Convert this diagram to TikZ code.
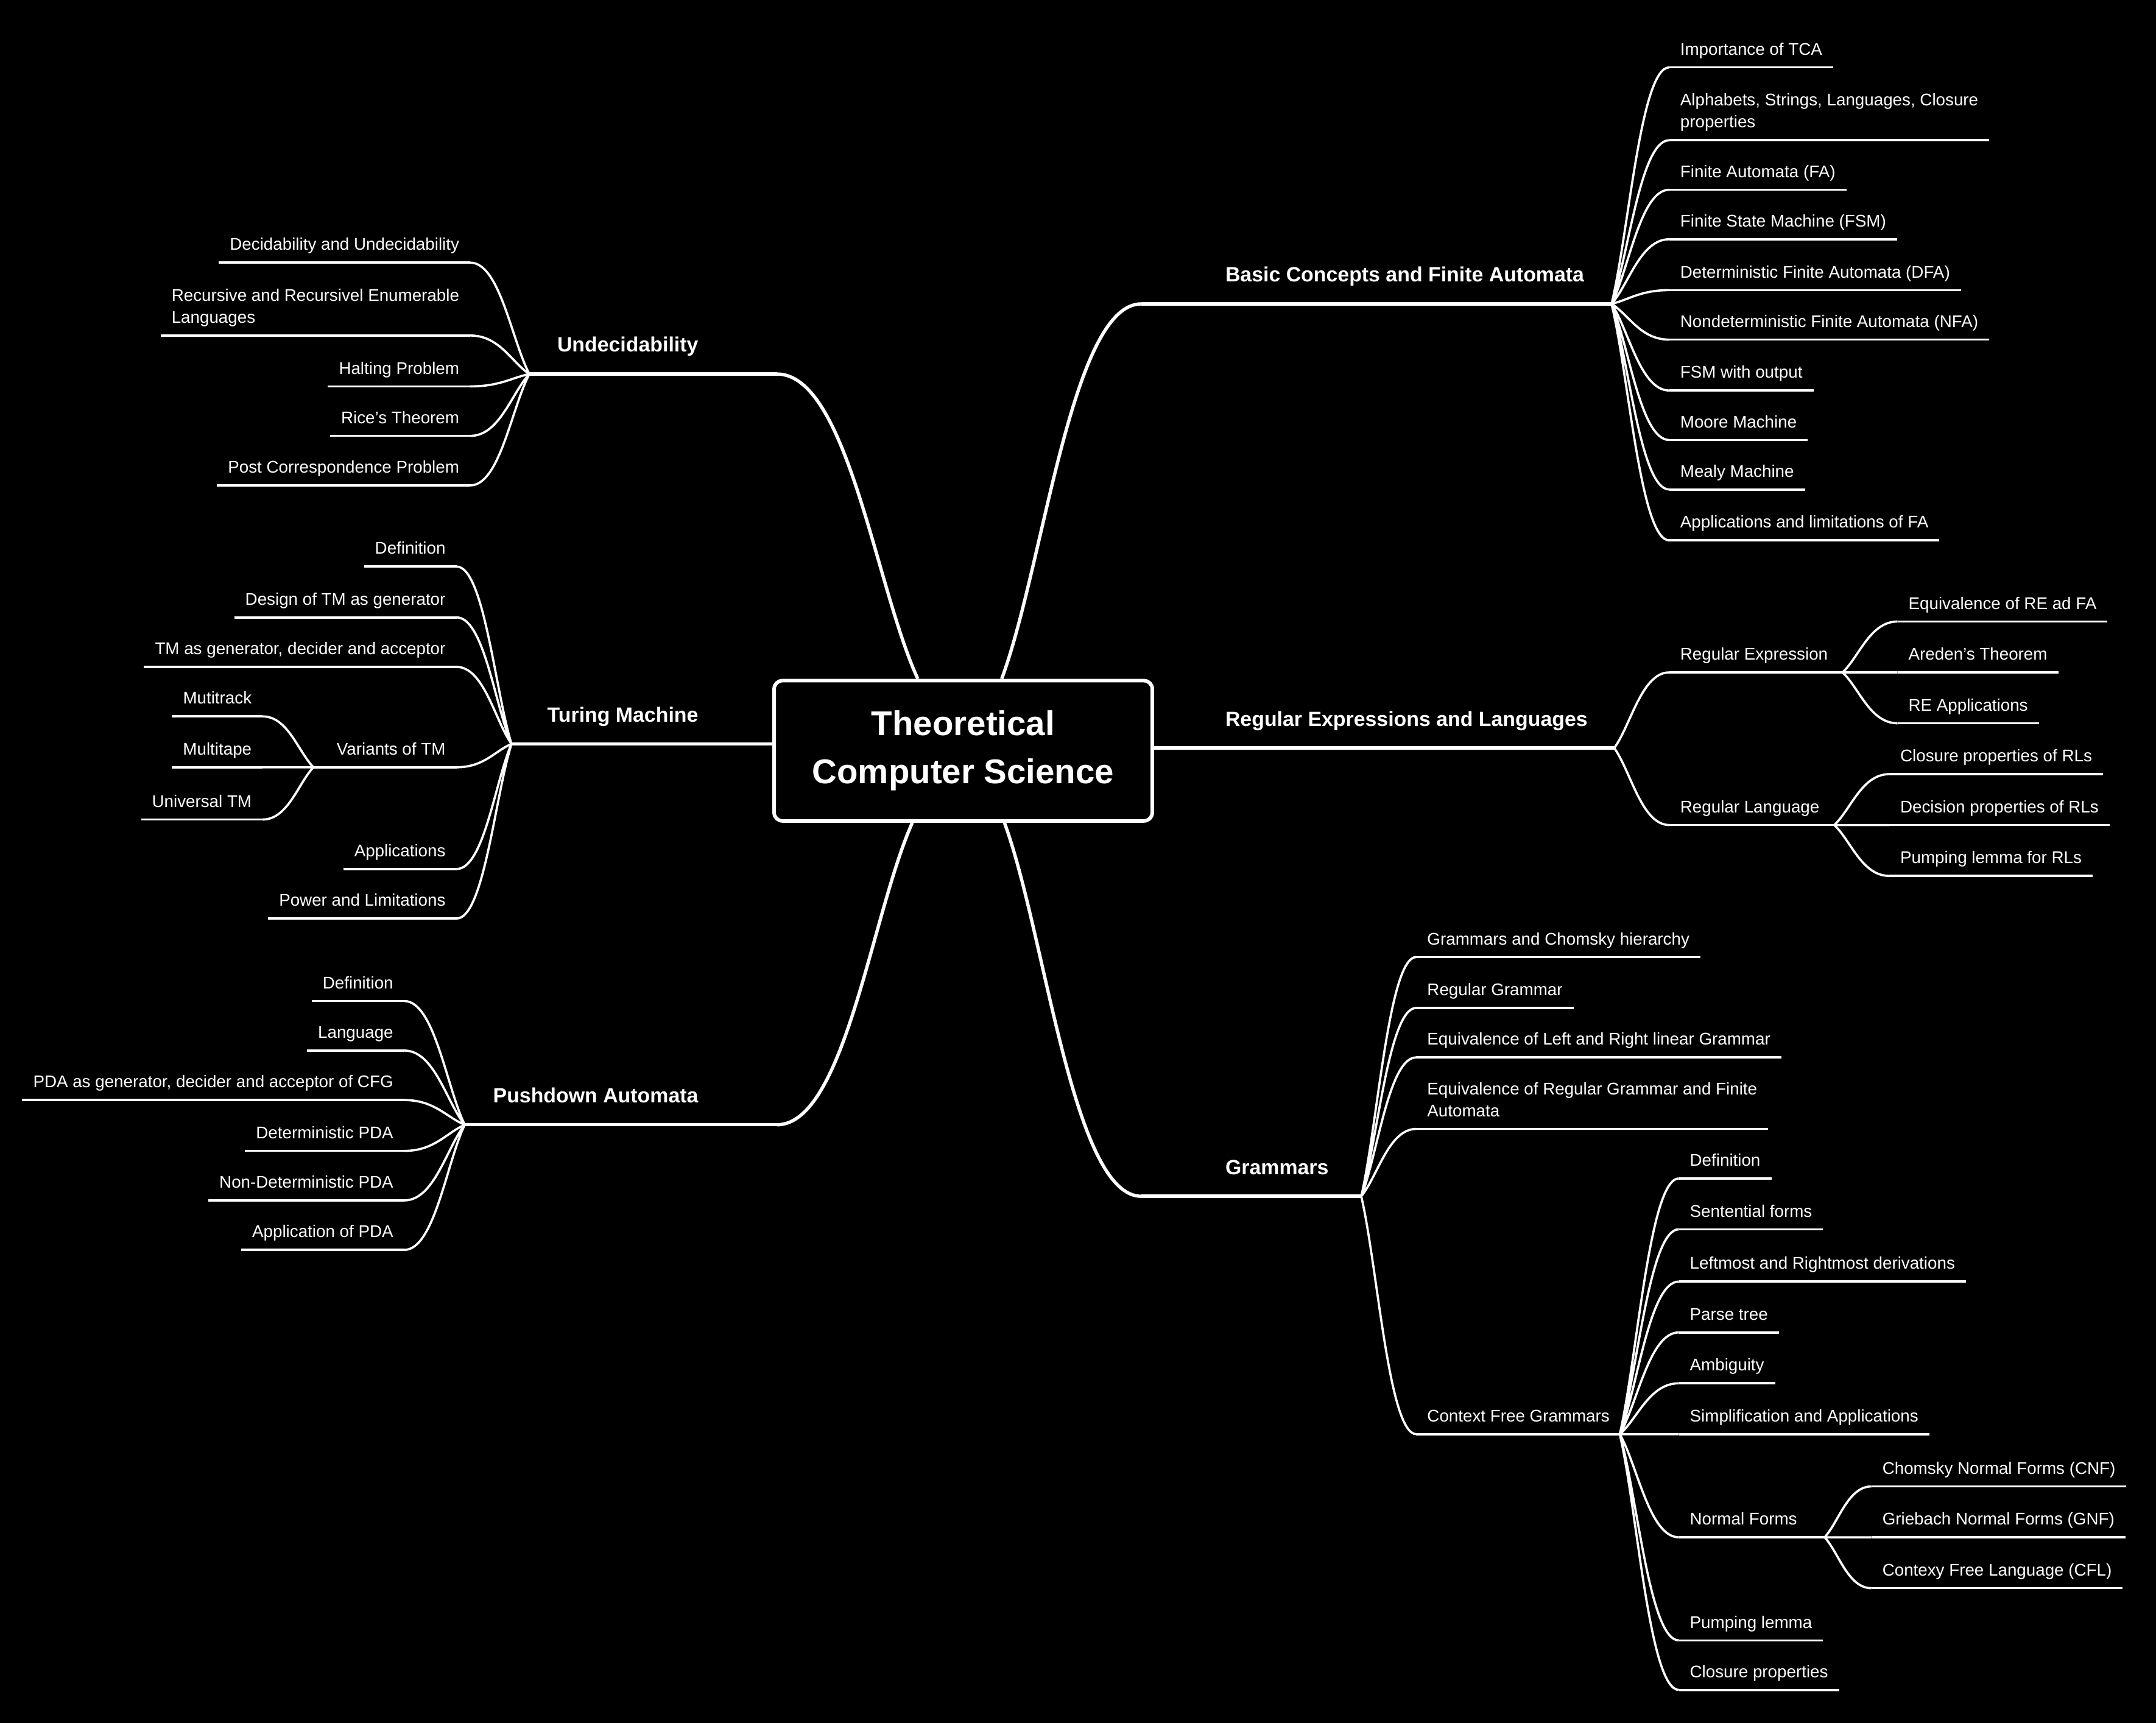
\documentclass[tikz,border=0pt]{standalone}
\usepackage{fontspec}
\setmainfont{Liberation Sans}
\usetikzlibrary{calc}

\begin{document}
\begin{tikzpicture}[x=1pt,y=-1pt,
    uline/.style={draw=white,line width=1.6pt},
    leaf/.style={text=white,font=\fontsize{12.3}{16}\selectfont,align=left,
        inner xsep=8pt,inner ysep=6pt,outer sep=0pt,text depth=3pt,
        append after command={(\tikzlastnode.south west) edge[uline] (\tikzlastnode.south east)}},
    link/.style={draw=white,line width=1.6pt,
        to path={let \p1=(\tikztostart), \p2=(\tikztotarget) in
            .. controls ($(\p1)!0.3!(\p2)$) and ({(\x1+\x2)/2},\y2) .. (\p2)}},
    mainlink/.style={link,line width=2.4pt},
    mainline/.style={draw=white,line width=2.4pt},
    branch/.style={text=white,font=\bfseries\fontsize{15}{18}\selectfont,inner sep=0pt},
    root/.style={draw=white,line width=2.6pt,fill=black,rounded corners=6pt,
        minimum width=275pt,minimum height=102pt,align=center,text=white,
        font=\bfseries\fontsize{25}{35}\selectfont}]
        \fill[black] (0,0) rectangle (1568,1253);
        \useasboundingbox (0,0) rectangle (1568,1253);

        \node[root] (tcs) at (700.5,546) {Theoretical\\Computer Science};

        \node[branch,anchor=base east] (und) at (508,256) {Undecidability};
        \coordinate (undL) at (565,272);
        \coordinate (undB) at (385,272);
        \node[leaf,anchor=south east] (und1) at (342,191) {Decidability and Undecidability};
        \node[leaf,anchor=south east] (und2) at (342,244) {Recursive and Recursivel Enumerable\\Languages};
        \node[leaf,anchor=south east] (und3) at (342,281) {Halting Problem};
        \node[leaf,anchor=south east] (und4) at (342,317) {Rice's Theorem};
        \node[leaf,anchor=south east] (und5) at (342,353) {Post Correspondence Problem};

        \node[branch,anchor=base east] (tm) at (508,525) {Turing Machine};
        \coordinate (tmB) at (372,541);
        \node[leaf,anchor=south east] (tm1) at (332,412) {Definition};
        \node[leaf,anchor=south east] (tm2) at (332,449) {Design of TM as generator};
        \node[leaf,anchor=south east] (tm3) at (332,485) {TM as generator, decider and acceptor};
        \node[leaf,anchor=south east] (tm4) at (332,558) {Variants of TM};
        \node[leaf,anchor=south east] (tm5) at (332,632) {Applications};
        \node[leaf,anchor=south east] (tm6) at (332,668) {Power and Limitations};
        \coordinate (vtmB) at (228,558);
        \node[leaf,anchor=south east] (vtm1) at (191,521) {Mutitrack};
        \node[leaf,anchor=south east] (vtm2) at (191,558) {Multitape};
        \node[leaf,anchor=south east] (vtm3) at (191,596) {Universal TM};

        \node[branch,anchor=base east] (pda) at (508,802) {Pushdown Automata};
        \coordinate (pdaL) at (565,818);
        \coordinate (pdaB) at (338,818);
        \node[leaf,anchor=south east] (pda1) at (294,728) {Definition};
        \node[leaf,anchor=south east] (pda2) at (294,764) {Language};
        \node[leaf,anchor=south east] (pda3) at (294,800) {PDA as generator, decider and acceptor of CFG};
        \node[leaf,anchor=south east] (pda4) at (294,837) {Deterministic PDA};
        \node[leaf,anchor=south east] (pda5) at (294,873) {Non-Deterministic PDA};
        \node[leaf,anchor=south east] (pda6) at (294,909) {Application of PDA};

        \node[branch,anchor=base west] (bca) at (891,205) {Basic Concepts and Finite Automata};
        \coordinate (bcaL) at (830,221);
        \coordinate (bcaB) at (1172,221);
        \node[leaf,anchor=south west] (bca1) at (1214,49) {Importance of TCA};
        \node[leaf,anchor=south west] (bca2) at (1214,102) {Alphabets, Strings, Languages, Closure\\properties};
        \node[leaf,anchor=south west] (bca3) at (1214,138) {Finite Automata (FA)};
        \node[leaf,anchor=south west] (bca4) at (1214,174) {Finite State Machine (FSM)};
        \node[leaf,anchor=south west] (bca5) at (1214,211) {Deterministic Finite Automata (DFA)};
        \node[leaf,anchor=south west] (bca6) at (1214,247) {Nondeterministic Finite Automata (NFA)};
        \node[leaf,anchor=south west] (bca7) at (1214,284) {FSM with output};
        \node[leaf,anchor=south west] (bca8) at (1214,320) {Moore Machine};
        \node[leaf,anchor=south west] (bca9) at (1214,356) {Mealy Machine};
        \node[leaf,anchor=south west] (bca10) at (1214,393) {Applications and limitations of FA};

        \node[branch,anchor=base west] (rel) at (891,528) {Regular Expressions and Languages};
        \coordinate (relB) at (1174,544);
        \node[leaf,anchor=south west] (re) at (1214,489) {Regular Expression};
        \coordinate (reB) at (1340,489);
        \node[leaf,anchor=south west] (re1) at (1380,452) {Equivalence of RE ad FA};
        \node[leaf,anchor=south west] (re2) at (1380,489) {Areden's Theorem};
        \node[leaf,anchor=south west] (re3) at (1380,526) {RE Applications};
        \node[leaf,anchor=south west] (rl) at (1214,600) {Regular Language};
        \coordinate (rlB) at (1334,600);
        \node[leaf,anchor=south west] (rl1) at (1374,563) {Closure properties of RLs};
        \node[leaf,anchor=south west] (rl2) at (1374,600) {Decision properties of RLs};
        \node[leaf,anchor=south west] (rl3) at (1374,637) {Pumping lemma for RLs};

        \node[branch,anchor=base west] (gr) at (891,854) {Grammars};
        \coordinate (grL) at (830,870);
        \coordinate (grB) at (990,870);
        \node[leaf,anchor=south west] (gr1) at (1030,696) {Grammars and Chomsky hierarchy};
        \node[leaf,anchor=south west] (gr2) at (1030,733) {Regular Grammar};
        \node[leaf,anchor=south west] (gr3) at (1030,769) {Equivalence of Left and Right linear Grammar};
        \node[leaf,anchor=south west] (gr4) at (1030,821) {Equivalence of Regular Grammar and Finite\\Automata};
        \node[leaf,anchor=south west] (cfg) at (1030,1043) {Context Free Grammars};
        \coordinate (cfgB) at (1178,1043);
        \node[leaf,anchor=south west] (cfg1) at (1221,857) {Definition};
        \node[leaf,anchor=south west] (cfg2) at (1221,894) {Sentential forms};
        \node[leaf,anchor=south west] (cfg3) at (1221,932) {Leftmost and Rightmost derivations};
        \node[leaf,anchor=south west] (cfg4) at (1221,969) {Parse tree};
        \node[leaf,anchor=south west] (cfg5) at (1221,1006) {Ambiguity};
        \node[leaf,anchor=south west] (cfg6) at (1221,1043) {Simplification and Applications};
        \node[leaf,anchor=south west] (nf) at (1221,1118) {Normal Forms};
        \node[leaf,anchor=south west] (cfg7) at (1221,1193) {Pumping lemma};
        \node[leaf,anchor=south west] (cfg8) at (1221,1229) {Closure properties};
        \coordinate (nfB) at (1327,1118);
        \node[leaf,anchor=south west] (nf1) at (1361,1081) {Chomsky Normal Forms (CNF)};
        \node[leaf,anchor=south west] (nf2) at (1361,1118) {Griebach Normal Forms (GNF)};
        \node[leaf,anchor=south west] (nf3) at (1361,1155) {Contexy Free Language (CFL)};

        \draw[mainlink] ([xshift=-33pt]tcs.north) to (undL);
        \draw[mainline] (undL) -- (undB);
        \draw[mainline] (tcs.west |- tmB) -- (tmB);
        \draw[mainlink] ([xshift=-37pt]tcs.south) to (pdaL);
        \draw[mainline] (pdaL) -- (pdaB);
        \draw[mainlink] ([xshift=28pt]tcs.north) to (bcaL);
        \draw[mainline] (bcaL) -- (bcaB);
        \draw[mainline] (tcs.east |- relB) -- (relB);
        \draw[mainlink] ([xshift=30pt]tcs.south) to (grL);
        \draw[mainline] (grL) -- (grB);

        \draw[link] (undB) to (und1.south east) (undB) to (und2.south east) (undB) to (und3.south east)
            (undB) to (und4.south east) (undB) to (und5.south east);
        \draw[link] (tmB) to (tm1.south east) (tmB) to (tm2.south east) (tmB) to (tm3.south east)
            (tmB) to (tm4.south east) (tmB) to (tm5.south east) (tmB) to (tm6.south east);
        \draw[uline] (tm4.south west) -- (vtmB);
        \draw[link] (vtmB) to (vtm1.south east) (vtmB) to (vtm2.south east) (vtmB) to (vtm3.south east);
        \draw[link] (pdaB) to (pda1.south east) (pdaB) to (pda2.south east) (pdaB) to (pda3.south east)
            (pdaB) to (pda4.south east) (pdaB) to (pda5.south east) (pdaB) to (pda6.south east);

        \draw[link] (bcaB) to (bca1.south west) (bcaB) to (bca2.south west) (bcaB) to (bca3.south west)
            (bcaB) to (bca4.south west) (bcaB) to (bca5.south west) (bcaB) to (bca6.south west)
            (bcaB) to (bca7.south west) (bcaB) to (bca8.south west) (bcaB) to (bca9.south west)
            (bcaB) to (bca10.south west);
        \draw[link] (relB) to (re.south west) (relB) to (rl.south west);
        \draw[uline] (re.south east) -- (reB);
        \draw[uline] (rl.south east) -- (rlB);
        \draw[link] (reB) to (re1.south west) (reB) to (re2.south west) (reB) to (re3.south west);
        \draw[link] (rlB) to (rl1.south west) (rlB) to (rl2.south west) (rlB) to (rl3.south west);
        \draw[link] (grB) to (gr1.south west) (grB) to (gr2.south west) (grB) to (gr3.south west)
            (grB) to (gr4.south west) (grB) to (cfg.south west);
        \draw[uline] (cfg.south east) -- (cfgB);
        \draw[link] (cfgB) to (cfg1.south west) (cfgB) to (cfg2.south west) (cfgB) to (cfg3.south west)
            (cfgB) to (cfg4.south west) (cfgB) to (cfg5.south west) (cfgB) to (cfg6.south west)
            (cfgB) to (nf.south west) (cfgB) to (cfg7.south west) (cfgB) to (cfg8.south west);
        \draw[uline] (nf.south east) -- (nfB);
        \draw[link] (nfB) to (nf1.south west) (nfB) to (nf2.south west) (nfB) to (nf3.south west);
    \end{tikzpicture}
\end{document}
